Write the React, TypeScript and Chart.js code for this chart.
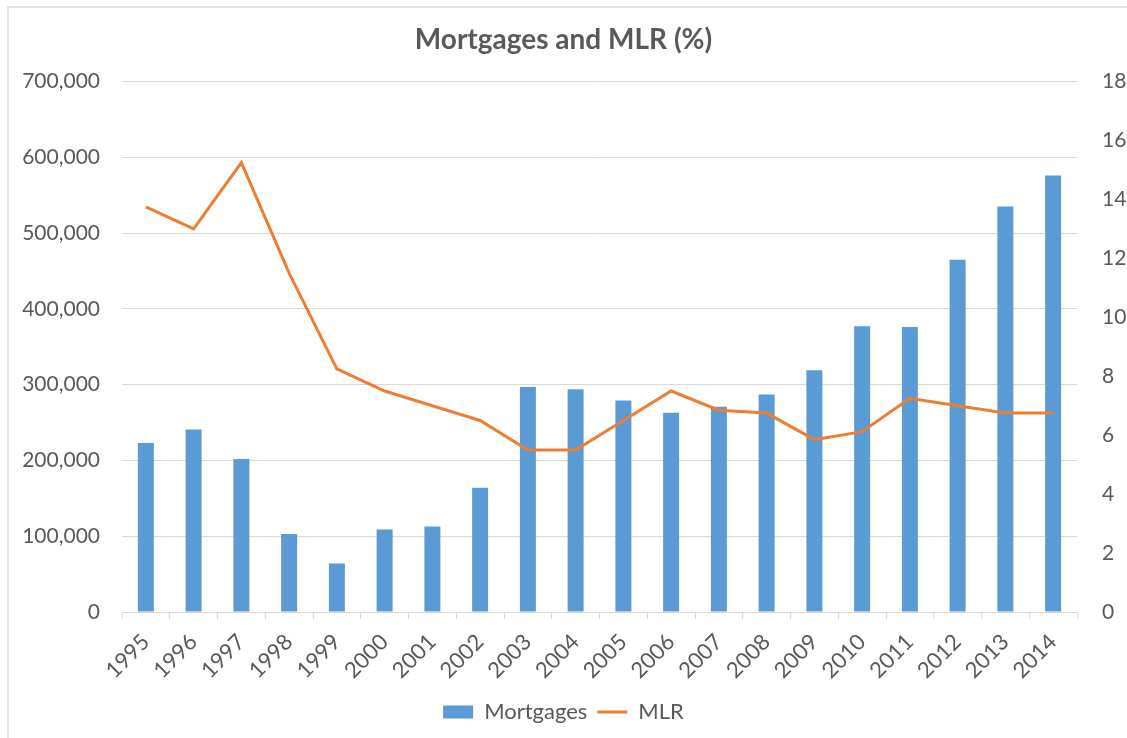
import React, { useEffect, useRef } from "react";
import { Chart, registerables } from "chart.js";

Chart.register(...registerables);

const years = ["1995","1996","1997","1998","1999","2000","2001","2002","2003","2004","2005","2006","2007","2008","2009","2010","2011","2012","2013","2014"];
const mortgages = [223000, 241000, 202000, 103000, 64000, 109000, 113000, 164000, 297000, 294000, 279000, 263000, 271000, 287000, 319000, 377000, 376000, 465000, 535000, 576000];
const mlr = [13.75, 13.0, 15.25, 11.5, 8.25, 7.5, 7.0, 6.5, 5.5, 5.5, 6.5, 7.5, 6.85, 6.75, 5.85, 6.12, 7.25, 7.0, 6.75, 6.75];
const leftTicks = [0, 100000, 200000, 300000, 400000, 500000, 600000, 700000];
const rightTicks = [0, 2, 4, 6, 8, 10, 12, 14, 16, 18];

const FONT = "Lato, 'Open Sans', sans-serif";
const TEXT = "#595959";
const GRID = "#d9d9d9";

export default function App() {
  const ref = useRef<HTMLCanvasElement | null>(null);

  useEffect(() => {
    if (!ref.current) return;
    const chart = new Chart(ref.current, {
      type: "bar",
      data: {
        labels: years,
        datasets: [
          {
            type: "line",
            label: "MLR",
            data: mlr,
            yAxisID: "y1",
            borderColor: "#ED7D31",
            backgroundColor: "#ED7D31",
            borderWidth: 3,
            pointRadius: 0,
            tension: 0,
            order: 0,
            pointStyle: "line",
          } as any,
          {
            type: "bar",
            label: "Mortgages",
            data: mortgages,
            yAxisID: "y",
            backgroundColor: "#5B9BD5",
            borderWidth: 0,
            barPercentage: 0.335,
            categoryPercentage: 1,
            order: 1,
            pointStyle: "rect",
          } as any,
        ],
      },
      options: {
        responsive: false,
        animation: false,
        maintainAspectRatio: false,
        layout: { padding: { top: 0, bottom: 5, left: 0, right: 0 } },
        plugins: {
          title: {
            display: true,
            text: "Mortgages and MLR (%)",
            color: TEXT,
            font: { family: FONT, size: 28, weight: "bold" },
            padding: { top: 23, bottom: 25 },
          },
          legend: {
            position: "bottom",
            reverse: true,
            labels: {
              color: TEXT,
              font: { family: FONT, size: 22 },
              usePointStyle: true,
              pointStyleWidth: 30,
              boxHeight: 13,
              padding: 10,
            },
          },
          tooltip: { enabled: false },
        },
        scales: {
          x: {
            offset: true,
            grid: {
              offset: true,
              drawOnChartArea: false,
              drawTicks: true,
              tickLength: 7,
              color: GRID,
            },
            border: { display: true, color: GRID },
            ticks: {
              color: TEXT,
              font: { family: FONT, size: 22 },
              minRotation: 45,
              maxRotation: 45,
              padding: 10,
              autoSkip: false,
            },
            afterFit: (s: any) => {
              s.height = 79;
            },
          },
          y: {
            position: "left",
            min: 0,
            max: 700000,
            afterBuildTicks: (s: any) => {
              s.ticks = leftTicks.map((v) => ({ value: v }));
            },
            grid: { color: GRID, drawTicks: false, lineWidth: 1 },
            border: { display: false },
            ticks: {
              color: TEXT,
              font: { family: FONT, size: 21 },
              padding: 22,
              callback: (v: any) => Number(v).toLocaleString("en-US"),
            },
            afterFit: (s: any) => {
              s.width = 122;
            },
          },
          y1: {
            position: "right",
            min: 0,
            max: 18,
            afterBuildTicks: (s: any) => {
              s.ticks = rightTicks.map((v) => ({ value: v }));
            },
            grid: { drawOnChartArea: false, drawTicks: false },
            border: { display: false },
            ticks: {
              color: TEXT,
              font: { family: FONT, size: 21 },
              padding: 25,
            },
            afterFit: (s: any) => {
              s.width = 50;
            },
          },
        },
      } as any,
    });
    return () => chart.destroy();
  }, []);

  return (
    <div style={{ position: "fixed", left: 0, top: 0, width: 1127, height: 738, background: "#fff", overflow: "hidden" }}>
      <div
        style={{
          position: "absolute",
          left: 7,
          top: 6,
          width: 1200,
          height: 800,
          borderLeft: "2px solid #e2e2e2",
          borderTop: "2px solid #e2e2e2",
        }}
      />
      <canvas ref={ref} width={1127} height={738} style={{ position: "absolute", left: 0, top: 0, width: 1127, height: 738 }} />
    </div>
  );
}
